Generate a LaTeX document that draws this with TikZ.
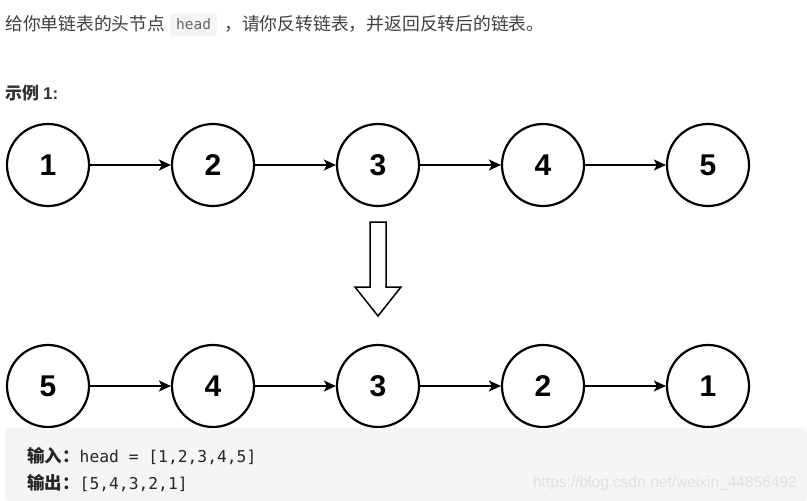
\documentclass[tikz,border=0pt]{standalone}
\usepackage{fontspec}
\setmainfont{Liberation Sans}
\newfontfamily\cjk{Noto Sans CJK SC}
\newfontfamily\codefont{DejaVu Sans Mono}
\usetikzlibrary{arrows.meta}
\begin{document}
\begin{tikzpicture}[x=1pt,y=-1pt,
  lnode/.style={circle,draw=black,line width=2.2pt,minimum size=82pt,inner sep=0pt,font=\fontsize{30}{30}\selectfont\bfseries},
  link/.style={line width=1.8pt,-{Stealth[length=12pt,width=11pt,inset=3pt]}},
  plain/.style={inner sep=0pt,anchor=west}]
\useasboundingbox (0,0) rectangle (807,501);
\fill[white] (0,0) rectangle (807,501);
% top text
\fill[gray!8,rounded corners=3pt] (170,13) rectangle (217,36);
\node[plain,font=\cjk\fontsize{17.8}{17.8}\selectfont,text=black!75] (t1) at (5,24) {给你单链表的头节点};
\node[plain,font=\codefont\fontsize{14.5}{14.5}\selectfont,text=black!60] (t2) at (176,24) {head};
\node[plain,font=\cjk\fontsize{17.8}{17.8}\selectfont,text=black!75] (t3) at (224,24) {，请你反转链表，并返回反转后的链表。};
\node[plain,font=\cjk\fontsize{17}{17}\selectfont\bfseries,text=black!80] (ex) at (5,93) {示例 {\rmfamily\bfseries 1:}};
% top row
\foreach \i/\v in {1/1,2/2,3/3,4/4,5/5}{
  \node[lnode] (a\i) at ({48+165*(\i-1)},165) {\v};
}
\foreach \i/\j in {1/2,2/3,3/4,4/5}{ \draw[link] (a\i) -- (a\j); }
% block arrow
\draw[line width=1.5pt,line join=miter] (370,222) -- (386,222) -- (386,287) -- (401,287) -- (378,316) -- (355,287) -- (370,287) -- cycle;
% bottom row
\foreach \i/\v in {1/5,2/4,3/3,4/2,5/1}{
  \node[lnode] (b\i) at ({48+165*(\i-1)},386) {\v};
}
\foreach \i/\j in {1/2,2/3,3/4,4/5}{ \draw[link] (b\i) -- (b\j); }
% output box
\fill[gray!8,rounded corners=4pt] (5,428) rectangle (807,501);
\node[plain,font=\codefont\fontsize{16.3}{16.3}\selectfont,text=black!85] (in) at (27,456) {{\cjk\fontsize{17.5}{17.5}\selectfont\bfseries 输入：}head = [1,2,3,4,5]};
\node[plain,font=\codefont\fontsize{16.3}{16.3}\selectfont,text=black!85] (out) at (27,483) {{\cjk\fontsize{17.5}{17.5}\selectfont\bfseries 输出：}[5,4,3,2,1]};
\node[anchor=east,inner sep=0pt,font=\fontsize{15.5}{15.5}\selectfont,text=black!12] (wm) at (797,483) {https://blog.csdn.net/weixin\_44856492};
\end{tikzpicture}
\end{document}
